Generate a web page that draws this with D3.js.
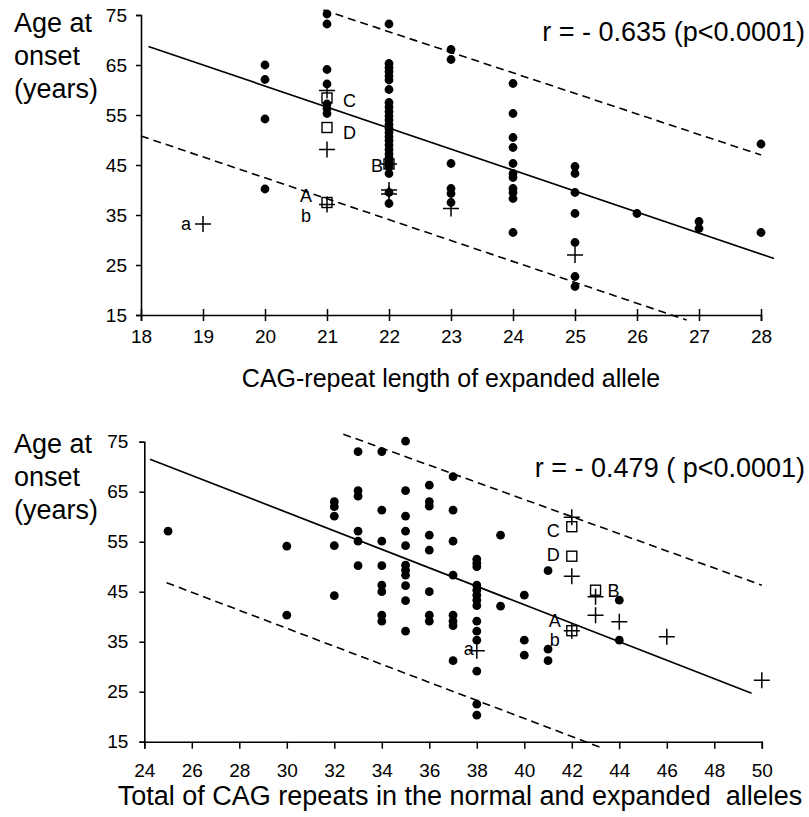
<!DOCTYPE html>
<html>
    <head>
        <meta charset="utf-8">
        <title>Age at onset vs CAG repeats</title>
        <script type="text/javascript" src="https://cdn.jsdelivr.net/npm/d3@7"></script>
        <style>
            body { margin: 0; background: #fff; }
            svg text { font-family: "Liberation Sans", Arial, sans-serif; fill: #000; }
        </style>
    </head>
    <body>
        <svg id="svg"></svg>

        <script>
            var WIDTH = 809;
            var HEIGHT = 817;

            // ---- top panel: CAG length of the expanded allele ----
            var topXTicks = [18, 19, 20, 21, 22, 23, 24, 25, 26, 27, 28];
            var yTicks = [15, 25, 35, 45, 55, 65, 75];

            // [repeat length, age at onset]
            var topDots = [
                [20, 65], [20, 62.1], [20, 54.2], [20, 40.2],
                [21, 75.2], [21, 73.2], [21, 64.1], [21, 61.2], [21, 57.2], [21, 56.3], [21, 55.3],
                [22, 73.2], [22, 65.3], [22, 64.5], [22, 63.7], [22, 62.8], [22, 62], [22, 60.1],
                [22, 57.5], [22, 56.6], [22, 55.7], [22, 54.8], [22, 54], [22, 53.1], [22, 52.3],
                [22, 51.5], [22, 50.7], [22, 49.9], [22, 49], [22, 48.1], [22, 47.2], [22, 46.4],
                [22, 45.6], [22, 44.7], [22, 43.3], [22, 39.5], [22, 37.3],
                [23, 68.1], [23, 66.1], [23, 45.3], [23, 40.3], [23, 39.3], [23, 37.5],
                [24, 61.3], [24, 55.3], [24, 50.5], [24, 48.5], [24, 45.3], [24, 43.3], [24, 42.5],
                [24, 40.3], [24, 39.5], [24, 38.3], [24, 31.5],
                [25, 44.7], [25, 43.3], [25, 39.5], [25, 35.3], [25, 29.5], [25, 22.7], [25, 20.7],
                [26, 35.3],
                [27, 33.7], [27, 32.3],
                [28, 49.2], [28, 31.5]
            ];
            var topSquares = [[21, 58.4], [21, 52.5], [22, 45.2], [21, 37.5]];
            var topPluses = [[21, 59.9], [21, 48.1], [22, 45.2], [22, 40], [22, 39.2],
                             [21, 37.1], [19, 33.2], [23, 36.3], [25, 27]];
            // letter, x, age, dx, dy, anchor
            var topLetters = [
                ["C", 21, 58.4, 16, 9, "start"],
                ["D", 21, 52.5, 16, 11, "start"],
                ["B", 22, 45.2, -6, 8, "end"],
                ["A", 21, 37.5, -15, -1, "end"],
                ["b", 21, 37.5, -16, 19, "end"],
                ["a", 19, 33.2, -12, 6, "end"]
            ];
            var topFit = [[18.12, 68.7], [28.21, 26.3]];
            var topUpper = [[20.94, 76.0], [28.0, 47.0]];
            var topLower = [[18.0, 50.8], [26.8, 14.0]];

            // ---- bottom panel: total of CAG repeats ----
            var botXTicks = [24, 26, 28, 30, 32, 34, 36, 38, 40, 42, 44, 46, 48, 50];

            var botDots = [
                [25, 57.1],
                [30, 54.1], [30, 40.3],
                [32, 63], [32, 62], [32, 60.1], [32, 54.2], [32, 44.2],
                [33, 73], [33, 65.2], [33, 64.1], [33, 57.1], [33, 55.1], [33, 50.2],
                [34, 73], [34, 61.3], [34, 55.1], [34, 50.2], [34, 46.3], [34, 45], [34, 40.3], [34, 39.1],
                [35, 75.1], [35, 65.2], [35, 60.1], [35, 57.1], [35, 54.2], [35, 50.3], [35, 49.3],
                [35, 48.3], [35, 46.2], [35, 43.2], [35, 37.1],
                [36, 66.3], [36, 63], [36, 62.1], [36, 56.3], [36, 53.3], [36, 45], [36, 40.3], [36, 39.1],
                [37, 68], [37, 61.3], [37, 55.1], [37, 48.3], [37, 40.3], [37, 39.1], [37, 38.2], [37, 31.2],
                [38, 51.5], [38, 50.7], [38, 50], [38, 46.3], [38, 45.3], [38, 44.3], [38, 43.3], [38, 42.2],
                [38, 39.1], [38, 37.1], [38, 35.3], [38, 29.1], [38, 22.5], [38, 20.3],
                [39, 56.3], [39, 42.1],
                [40, 44.3], [40, 35.3], [40, 32.3],
                [41, 49.2], [41, 33.5], [41, 31.2],
                [44, 43.3], [44, 35.3]
            ];
            var botSquares = [[42, 58], [42, 52.1], [43, 45.3], [42, 37.2]];
            var botPluses = [[42, 59.9], [42, 48.1], [43, 44], [43, 40.3], [44, 39],
                             [46, 36], [50, 27.3], [42, 37.2], [38, 33.2]];
            var botLetters = [
                ["C", 42, 58, -12, 10, "end"],
                ["D", 42, 52.1, -12, 5, "end"],
                ["B", 43, 45.3, 12, 7, "start"],
                ["A", 42, 37.2, -11, -4, "end"],
                ["b", 42, 37.2, -12, 15, "end"],
                ["a", 38, 33.2, -3, 4, "end"]
            ];
            var botFit = [[24.24, 71.5], [49.57, 24.7]];
            var botUpper = [[32.38, 76.5], [50.0, 46.3]];
            var botLower = [[24.94, 46.8], [43.3, 13.7]];

            var svg = d3.select('#svg')
                        .attr('width', WIDTH)
                        .attr('height', HEIGHT);

            var drawPanel = function(opt){
                var x = opt.x, y = opt.y;
                var g = svg.append('g');

                // lines
                var line = d3.line()
                             .x(function(d){ return x(d[0]); })
                             .y(function(d){ return y(d[1]); });
                g.append('path').attr('d', line(opt.fit))
                 .attr('fill', 'none').attr('stroke', '#000').attr('stroke-width', 1.7);
                [opt.upper, opt.lower].forEach(function(l){
                    g.append('path').attr('d', line(l))
                     .attr('fill', 'none').attr('stroke', '#000').attr('stroke-width', 1.6)
                     .attr('stroke-dasharray', '8,5');
                });

                // axes
                var xAxis = g.append('g')
                    .attr('transform', 'translate(0,' + y(15) + ')')
                    .call(d3.axisBottom(x).tickValues(opt.xTicks).tickSizeOuter(0).tickSize(opt.xTickDown));
                var yAxis = g.append('g')
                    .attr('transform', 'translate(' + x(opt.xTicks[0]) + ',0)')
                    .call(d3.axisLeft(y).tickValues(yTicks).tickSizeOuter(0).tickSize(5));
                [xAxis, yAxis].forEach(function(a){
                    a.select('.domain').attr('stroke-width', 1.6);
                    a.selectAll('.tick line').attr('stroke-width', 1.5);
                    a.selectAll('text').attr('font-size', '19px')
                     .attr('font-family', '"Liberation Sans", Arial, sans-serif');
                });
                if(opt.xTickUp){
                    xAxis.selectAll('.tick line').attr('y1', -opt.xTickUp);
                }
                xAxis.selectAll('text').attr('y', opt.xLabelY).attr('dy', null);
                yAxis.selectAll('text').attr('x', -opt.yLabelGap);

                // circles
                g.selectAll('circle')
                 .data(opt.dots)
                 .enter()
                 .append('circle')
                 .attr('cx', function(d){ return x(d[0]); })
                 .attr('cy', function(d){ return y(d[1]); })
                 .attr('r', 4.4)
                 .attr('fill', '#000');

                // squares
                g.selectAll('rect.sq')
                 .data(opt.squares)
                 .enter()
                 .append('rect')
                 .attr('class', 'sq')
                 .attr('x', function(d){ return x(d[0]) - 5; })
                 .attr('y', function(d){ return y(d[1]) - 5; })
                 .attr('width', 10)
                 .attr('height', 10)
                 .attr('fill', 'none')
                 .attr('stroke', '#000')
                 .attr('stroke-width', 1.4);

                // pluses
                g.selectAll('path.plus')
                 .data(opt.pluses)
                 .enter()
                 .append('path')
                 .attr('class', 'plus')
                 .attr('d', function(d){
                     var cx = x(d[0]), cy = y(d[1]);
                     return 'M' + (cx - 8) + ',' + cy + 'H' + (cx + 8) +
                            'M' + cx + ',' + (cy - 8) + 'V' + (cy + 8);
                 })
                 .attr('stroke', '#000')
                 .attr('stroke-width', 1.5)
                 .attr('fill', 'none');

                // case letters
                g.selectAll('text.letter')
                 .data(opt.letters)
                 .enter()
                 .append('text')
                 .attr('class', 'letter')
                 .attr('x', function(d){ return x(d[1]) + d[3]; })
                 .attr('y', function(d){ return y(d[2]) + d[4]; })
                 .attr('text-anchor', function(d){ return d[5]; })
                 .attr('font-size', '18px')
                 .text(function(d){ return d[0]; });

                // y title
                ['Age at', 'onset', '(years)'].forEach(function(t, i){
                    g.append('text').attr('x', 14).attr('y', opt.titleY + i * 33)
                     .attr('font-size', '27px').text(t);
                });

                g.append('text').attr('x', 805).attr('y', opt.rY)
                 .attr('text-anchor', 'end').attr('font-size', '27px')
                 .style('white-space', 'pre')
                 .text(opt.rText);

                g.append('text').attr('x', opt.xTitleX).attr('y', opt.xTitleY)
                 .attr('text-anchor', 'middle').attr('font-size', opt.xTitleSize)
                 .style('white-space', 'pre')
                 .text(opt.xTitle);
            };

            drawPanel({
                x: d3.scaleLinear().domain([18, 28]).range([141, 761]),
                y: d3.scaleLinear().domain([15, 75]).range([315, 15]),
                xTicks: topXTicks,
                xTickDown: 6, xTickUp: 6, xLabelY: 28, yLabelGap: 14,
                dots: topDots, squares: topSquares, pluses: topPluses, letters: topLetters,
                fit: topFit, upper: topUpper, lower: topLower,
                titleY: 32, rY: 41,
                rText: 'r = - 0.635 (p<0.0001)',
                xTitle: 'CAG-repeat length of expanded allele',
                xTitleX: 451, xTitleY: 387, xTitleSize: '25px'
            });

            drawPanel({
                x: d3.scaleLinear().domain([24, 50]).range([144.3, 761.8]),
                y: d3.scaleLinear().domain([15, 75]).range([741.7, 441.7]),
                xTicks: botXTicks,
                xTickDown: 7, xTickUp: 0, xLabelY: 35, yLabelGap: 16,
                dots: botDots, squares: botSquares, pluses: botPluses, letters: botLetters,
                fit: botFit, upper: botUpper, lower: botLower,
                titleY: 453, rY: 477,
                rText: 'r = - 0.479 ( p<0.0001)',
                xTitle: 'Total of CAG repeats in the normal and expanded  alleles',
                xTitleX: 460, xTitleY: 805, xTitleSize: '27px'
            });
        </script>
    </body>
</html>
